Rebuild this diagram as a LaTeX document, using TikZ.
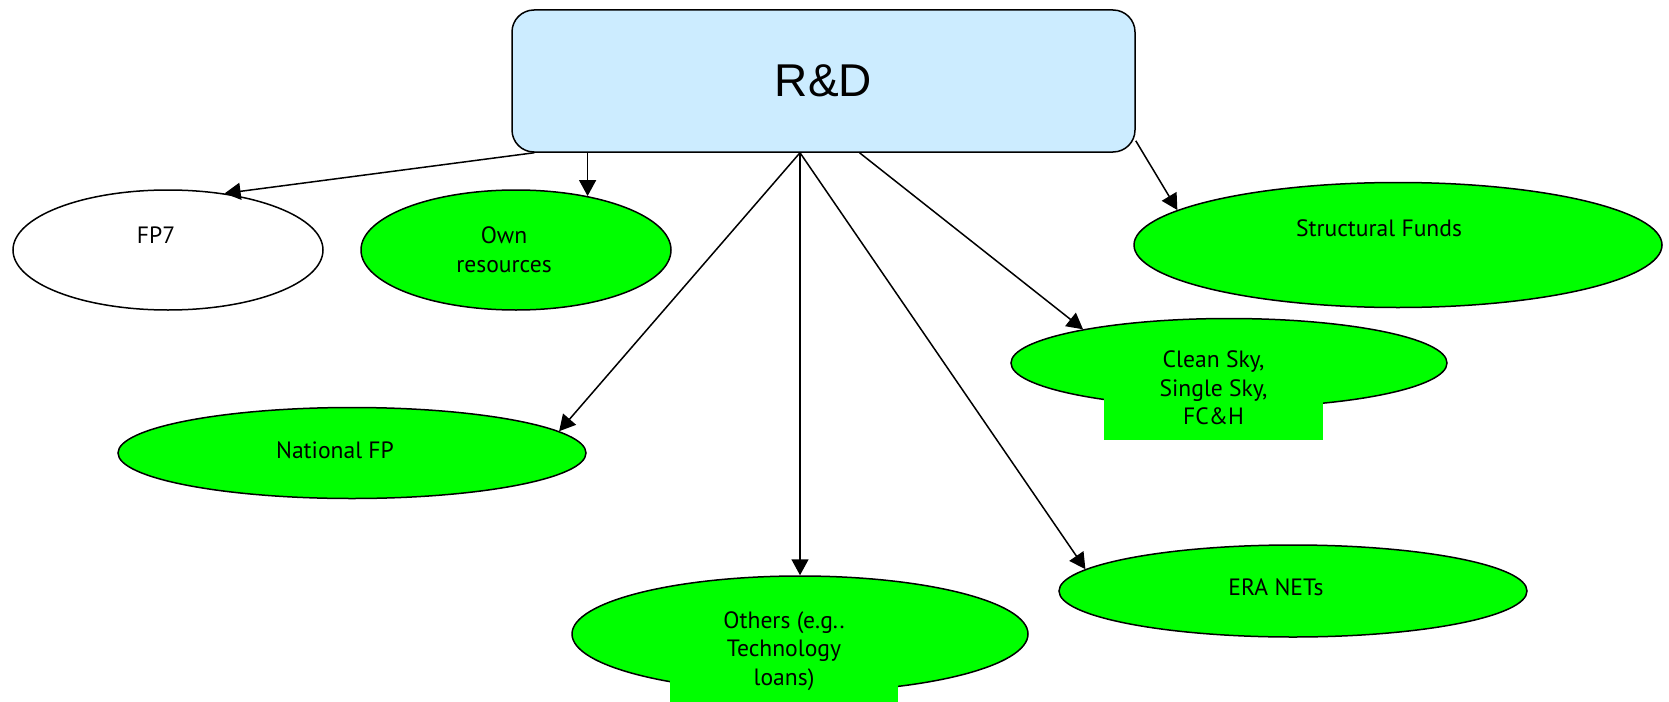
\documentclass[tikz,border=0pt]{standalone}
\usepackage{fontspec}
\setmainfont{PT Sans}
\newfontfamily\rdfont{Liberation Sans}
\usetikzlibrary{shapes.geometric,arrows.meta}
\definecolor{fundgreen}{HTML}{00FF00}
\definecolor{rdblue}{HTML}{CCECFF}

\begin{document}
\begin{tikzpicture}[x=0.5pt, y=-0.5pt,
    fund/.style={ellipse, draw, line width=0.75pt, fill=fundgreen, inner sep=0pt},
    lbl/.style={align=center, inner sep=0pt, font=\fontsize{11.8}{14.3}\selectfont},
    tbox/.style={rectangle, fill=fundgreen, inner sep=0pt, align=center, font=\fontsize{11.8}{14.3}\selectfont},
    arr/.style={-{Triangle[length=8pt, width=8.5pt]}, line width=0.75pt}]
                \useasboundingbox (0,0) rectangle (1669,701);

                % Main box
                \node[rectangle, draw, line width=0.75pt, fill=rdblue, rounded corners=11pt, minimum width=311.5pt, minimum height=71pt, font=\rdfont\fontsize{23}{27}\selectfont] (rd) at (823.5,81) {R\&D};

                % Funding sources
                \node[fund, fill=white, minimum width=155pt, minimum height=60pt] (fp7) at (168,250) {};
                \node[fund, minimum width=155pt, minimum height=60pt] (own) at (516,250) {};
                \node[fund, minimum width=264pt, minimum height=62.5pt] (structural) at (1398,245) {};
                \node[fund, minimum width=218pt, minimum height=44.5pt] (clean) at (1229,363) {};
                \node[fund, minimum width=234pt, minimum height=45.5pt] (natfp) at (352,453) {};
                \node[fund, minimum width=228pt, minimum height=58pt] (others) at (800,634) {};
                \node[fund, minimum width=234pt, minimum height=46pt] (era) at (1293,591) {};

                % Labels
                \node[lbl] (fp7txt) at (156,235) {FP7};
                \node[lbl] (owntxt) at (504,250) {Own\\resources};
                \node[lbl] (structtxt) at (1379,228) {Structural Funds};
                \node[lbl] (natfptxt) at (335,450) {National FP};
                \node[lbl] (eratxt) at (1276,587) {ERA NETs};
                \node[tbox, minimum width=109.5pt, minimum height=52pt] (cleantxt) at (1213.5,388) {Clean Sky,\\Single Sky,\\FC\&H};
                \node[tbox, minimum width=114pt, minimum height=52pt] (otherstxt) at (784,651) {Others (e.g..\\Technology\\loans)};

                % Arrows from R&D
                \coordinate (hub) at (others.north |- rd.south);
                \draw[arr] ([xshift=11.5pt]rd.south west) -- (fp7.45);
                \draw[arr] (own.37 |- rd.south) -- (own.37);
                \draw[arr] (hub) -- (natfp.6);
                \draw[arr] (hub) -- (others.north);
                \draw[arr] (hub) -- (era.174);
                \draw[arr] ([xshift=18pt]rd.south) -- (clean.167);
                \draw[arr] ([yshift=6pt]rd.south east) -- (structural.171);
            \end{tikzpicture}
\end{document}
